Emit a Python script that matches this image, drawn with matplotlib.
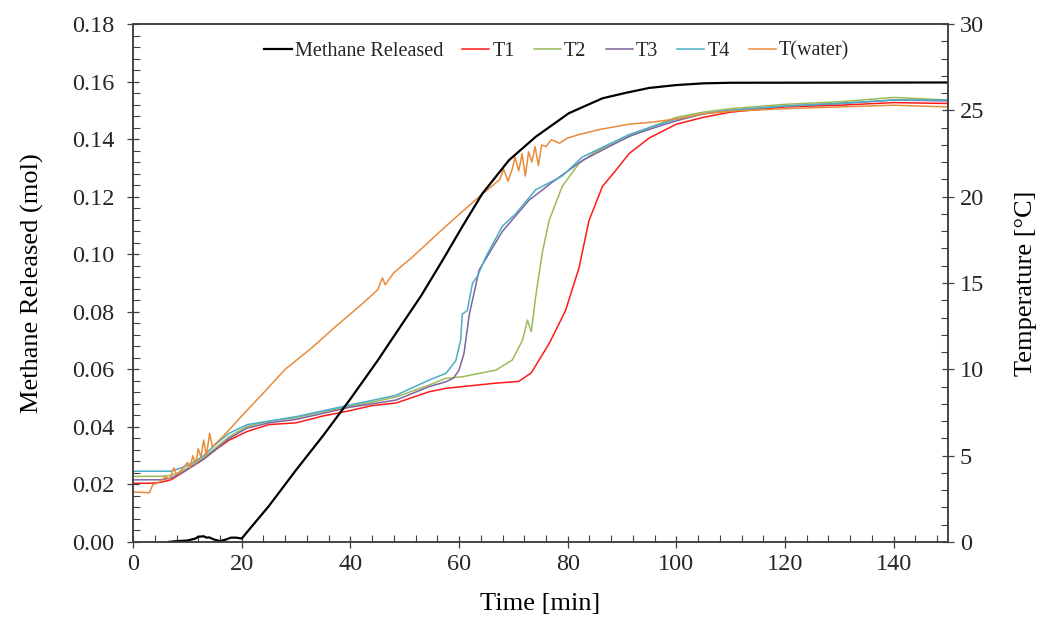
import matplotlib
matplotlib.use("Agg")
import matplotlib.pyplot as plt
from matplotlib.ticker import MultipleLocator

# methane released (left axis, mol)
t_ch4 = [6.5, 8, 10, 11.5, 12, 13, 13.5, 14, 15, 16, 17, 18, 19, 20, 25, 30, 35, 40, 45, 50, 53, 57,
         60.6, 64.3, 69.2, 74.1, 80.2, 86.4, 90.7, 95, 100, 105, 110, 150]
ch4 = [0, 0.0003, 0.0005, 0.0012, 0.0018, 0.0020, 0.0015, 0.0016, 0.0008, 0.0003, 0.0008, 0.0015, 0.0015,
       0.0012, 0.0125, 0.025, 0.037, 0.0497, 0.063, 0.0771, 0.0855, 0.098,
       0.1096, 0.1211, 0.1327, 0.1408, 0.149, 0.1542, 0.1561, 0.1578, 0.1588, 0.1594, 0.1596, 0.1597]

# temperatures (right axis, deg C)
t_t1 = [0, 3, 5, 7, 9, 11, 13, 15, 17.7, 21, 25, 30, 35, 39.8, 44, 48.4, 54.5, 57.6, 60.6, 66.8, 71,
        73.3, 76.6, 79.6, 82.1, 83.9, 86.4, 88.8, 91.3, 95, 100, 105, 110, 120, 130, 140, 150]
temp_t1 = [3.4, 3.4, 3.45, 3.6, 4.0, 4.4, 4.8, 5.3, 5.9, 6.4, 6.8, 6.9, 7.3, 7.6, 7.9, 8.05, 8.7, 8.9, 9.0,
           9.2, 9.3, 9.8, 11.5, 13.4, 15.9, 18.6, 20.6, 21.5, 22.5, 23.4, 24.2, 24.6, 24.9, 25.2, 25.3,
           25.45, 25.4]

t_t2 = [0, 5, 7, 9, 11, 13, 15, 17.7, 21, 25, 30, 35, 39.8, 44, 48.4, 54.5, 57.6, 60.6, 66.8, 69.8, 71.7,
        72.6, 73.3, 74.1, 75.3, 76.6, 79, 82.1, 85.1, 91.3, 95, 100, 105, 110, 120, 130, 140, 150]
temp_t2 = [3.8, 3.8, 3.85, 4.1, 4.5, 4.9, 5.4, 6.1, 6.7, 7.0, 7.2, 7.55, 7.85, 8.1, 8.4, 9.09, 9.48, 9.57,
           9.96, 10.54, 11.7, 12.85, 12.18, 14.2, 16.72, 18.65, 20.6, 21.93, 22.6, 23.47, 24.0, 24.6,
           24.9, 25.1, 25.35, 25.5, 25.75, 25.6]

t_t3 = [0, 5, 7, 9, 11, 13, 15, 17.7, 21, 25, 30, 35, 39.8, 44, 48.4, 54.5, 57.6, 59, 60, 60.9, 61.9, 63.7,
        65.5, 68, 72.9, 77, 82.7, 91.3, 95, 100, 105, 110, 120, 130, 140, 150]
temp_t3 = [3.6, 3.6, 3.7, 4.0, 4.4, 4.8, 5.3, 6.0, 6.6, 6.9, 7.1, 7.45, 7.8, 8.0, 8.22, 9.0, 9.28, 9.5,
           9.96, 10.9, 13.2, 15.75, 16.7, 18.0, 19.8, 20.8, 22.1, 23.5, 23.9, 24.4, 24.8, 25.0, 25.25,
           25.4, 25.6, 25.55]

t_t4 = [0, 4, 7, 9, 11, 13, 15, 17.7, 21, 25, 30, 35, 39.8, 44, 48.4, 54.5, 57.6, 59.4, 60.3, 60.6, 61.5,
        62.5, 63.4, 64.9, 68, 70.4, 74.1, 79, 82.7, 91.3, 95, 100, 105, 110, 120, 130, 140, 150]
temp_t4 = [4.1, 4.1, 4.1, 4.3, 4.6, 5.0, 5.6, 6.3, 6.8, 7.0, 7.26, 7.6, 7.93, 8.2, 8.5, 9.38, 9.77, 10.5,
           11.7, 13.2, 13.4, 15.0, 15.4, 16.5, 18.3, 19.0, 20.4, 21.2, 22.3, 23.6, 24.0, 24.5, 24.8,
           25.0, 25.25, 25.4, 25.6, 25.6]

t_water = [0, 3, 3.6, 5, 6, 6.7, 7.5, 8, 9, 10, 10.5, 11, 11.5, 12, 12.5, 13, 13.5, 14.1, 14.6, 15.5,
           16.5, 17.7, 20, 23.9, 28, 33.1, 37, 42.2, 45, 45.9, 46.4, 48, 51.4, 57.6, 63.7, 66, 67.5,
           68.2, 69, 69.8, 70.3, 71, 71.6, 72.2, 72.8, 73.4, 74, 74.6, 75.2, 76, 77, 78.5, 80, 82.1,
           86, 91.3, 95, 100, 105, 110, 120, 130, 140, 150]
temp_water = [2.9, 2.85, 3.3, 3.5, 3.8, 3.6, 4.3, 3.9, 4.2, 4.6, 4.3, 5.0, 4.5, 5.4, 4.9, 5.9, 5.0, 6.3,
              5.5, 5.8, 6.1, 6.5, 7.3, 8.6, 10.0, 11.3, 12.4, 13.8, 14.6, 15.3, 14.9, 15.6, 16.5, 18.3,
              20.0, 20.6, 21.0, 21.6, 20.9, 21.6, 22.3, 21.5, 22.5, 21.2, 22.6, 22.0, 22.9, 21.8, 23.0,
              22.9, 23.3, 23.1, 23.4, 23.6, 23.9, 24.2, 24.3, 24.5, 24.8, 24.95, 25.1, 25.2, 25.3, 25.2]

plt.rcParams["font.family"] = ["Liberation Serif", "DejaVu Serif"]
plt.rcParams["text.color"] = "#262626"
plt.rcParams["xtick.color"] = "#404040"
plt.rcParams["ytick.color"] = "#404040"
plt.rcParams["xtick.labelcolor"] = "#262626"
plt.rcParams["ytick.labelcolor"] = "#262626"

fig = plt.figure(figsize=(10.37, 6.17), dpi=100)
ax = fig.add_axes([0.1283, 0.1216, 0.7859, 0.8394])
ax2 = ax.twinx()

l0, = ax.plot(t_ch4, ch4, color="black", lw=1.6, label="Methane Released")
l1, = ax2.plot(t_t1, temp_t1, color="#FF1A1A", lw=1.1, label="T1")
l2, = ax2.plot(t_t2, temp_t2, color="#9BBB59", lw=1.1, label="T2")
l3, = ax2.plot(t_t3, temp_t3, color="#8064A2", lw=1.1, label="T3")
l4, = ax2.plot(t_t4, temp_t4, color="#4BACC6", lw=1.1, label="T4")
l5, = ax2.plot(t_water, temp_water, color="#E98B3A", lw=1.1, label="T(water)")

# methane line on top of the temperature lines
ax.set_zorder(ax2.get_zorder() + 1)
ax.patch.set_visible(False)

ax.set_xlim(0, 150)
ax.set_ylim(0, 0.18)
ax2.set_ylim(0, 30)
ax.xaxis.set_major_locator(MultipleLocator(20))
ax.xaxis.set_minor_locator(MultipleLocator(4))
ax.yaxis.set_major_locator(MultipleLocator(0.02))
ax.yaxis.set_minor_locator(MultipleLocator(0.004))
ax2.yaxis.set_major_locator(MultipleLocator(5))
ax2.yaxis.set_minor_locator(MultipleLocator(1))
ax.yaxis.set_major_formatter(plt.FuncFormatter(lambda v, p: f"{v:.2f}"))

for a in (ax, ax2):
    a.tick_params(which="major", direction="inout", length=9, width=0.9, labelsize=17.5, pad=4)
    a.tick_params(which="minor", direction="in", length=5, width=0.8)
    for s in a.spines.values():
        s.set_color("#404040")
        s.set_linewidth(1.1)
ax.tick_params(axis="y", which="major", pad=9)

ax.set_xlabel("Time [min]", fontsize=19, labelpad=13)
ax.set_ylabel("Methane Released (mol)", fontsize=19, labelpad=20)
ax2.set_ylabel("Temperature [°C]", fontsize=19, labelpad=22)

ax.legend(handles=[l0, l1, l2, l3, l4, l5], loc="center", bbox_to_anchor=(0.52, 0.948), ncol=6,
          frameon=False, fontsize=14.5, handlelength=1.35, handletextpad=0.15, columnspacing=0.95)

fig.savefig("out.png", dpi=100)
